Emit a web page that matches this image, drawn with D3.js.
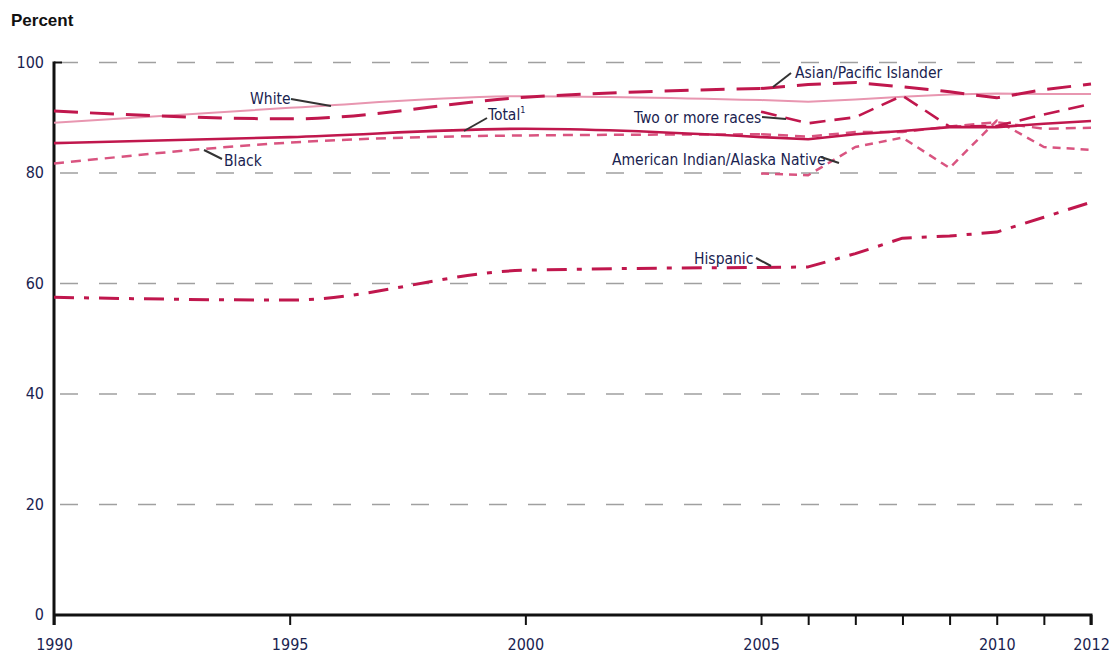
<!DOCTYPE html>
<html><head><meta charset="utf-8">
<script src="https://cdn.jsdelivr.net/npm/d3@7"></script>
<style>
body{margin:0;background:#fff;}
text{font-family:"Liberation Sans Narrow","DejaVu Sans Condensed","Roboto Condensed",sans-serif;}
</style></head>
<body><svg id="c" width="1112" height="664"></svg>
<script>
const years = [1990, 1995, 2000, 2005, 2006, 2007, 2008, 2009, 2010, 2011, 2012];
const yTicks = [0, 20, 40, 60, 80, 100];
const xTicks = [1990, 1995, 2000, 2005, 2006, 2007, 2008, 2009, 2010, 2011, 2012];
const xTickLabels = ["1990", "1995", "2000", "2005", "", "", "", "", "2010", "", "2012"];

const total    = [85.4, 86.5, 88.0, 86.5, 86.1, 87.0, 87.6, 88.3, 88.3, 88.9, 89.4];
const white    = [89.1, 91.8, 93.9, 93.2, 92.9, 93.3, 93.8, 94.2, 94.4, 94.3, 94.3];
const black    = [81.7, 85.5, 86.8, 87.0, 86.6, 87.4, 87.4, 88.4, 89.2, 88.0, 88.2];
const hispanic = [57.5, 57.0, 62.4, 62.9, 63.0, 65.4, 68.2, 68.6, 69.3, 72.0, 74.7];
const asian    = [91.2, 89.8, 93.7, 95.3, 96.0, 96.4, 95.6, 94.7, 93.6, 95.1, 96.1];
const twoMore  = [null, null, null, 91.1, 89.0, 90.1, 94.0, 88.4, 88.5, 90.6, 92.5];
const aian     = [null, null, null, 79.9, 79.6, 84.7, 86.4, 80.9, 89.5, 84.7, 84.2];

const svg = d3.select("#c");
const x = d3.scaleLinear().domain([1990, 2012]).range([54, 1091]);
const y = d3.scaleLinear().domain([0, 100]).range([615, 62.5]);

// title
svg.append("text").attr("x", 11).attr("y", 26).attr("font-size", 17).attr("font-weight", "bold")
  .attr("fill", "#111").style("font-family", "'Liberation Sans','DejaVu Sans',sans-serif").text("Percent");

// gridlines
svg.append("g").selectAll("line").data(yTicks.filter(d => d > 0)).join("line")
  .attr("x1", 60).attr("x2", 1082).attr("y1", d => y(d)).attr("y2", d => y(d))
  .attr("stroke", "#a0a0a0").attr("stroke-width", 1.6).attr("stroke-dasharray", "18,21");

// y axis labels
svg.append("g").selectAll("text").data(yTicks).join("text")
  .attr("x", 44).attr("y", d => y(d) + 5).attr("text-anchor", "end").attr("font-size", 16)
  .attr("fill", "#1a2350").text(d => d);

// axes
const xAxis = d3.axisBottom(x).tickValues(xTicks).tickSize(10).tickFormat((d, i) => xTickLabels[i]);
const gx = svg.append("g").attr("transform", `translate(0,${y(0)})`).call(xAxis);
gx.select(".domain").attr("stroke", "#111").attr("stroke-width", 3).attr("d", `M${x(1990)},0H${x(2012)}V10`);
gx.selectAll(".tick line").attr("stroke", "#111").attr("stroke-width", 2);
gx.selectAll(".tick text").attr("font-size", 16).attr("fill", "#1a2350").attr("dy", "1.35em")
  .style("font-family", "'Liberation Sans Narrow','DejaVu Sans Condensed',sans-serif");

svg.append("line").attr("x1", x(1990)).attr("x2", x(1990)).attr("y1", y(100) - 1).attr("y2", y(0) + 10)
  .attr("stroke", "#111").attr("stroke-width", 3);
svg.append("line").attr("x1", x(1990)).attr("x2", x(1990) + 8).attr("y1", y(100)).attr("y2", y(100))
  .attr("stroke", "#111").attr("stroke-width", 2);

// lines: smooth through the early, sparse years; straight segments for annual years
const smooth = d3.line().x(d => x(d[0])).y(d => y(d[1])).curve(d3.curveMonotoneX);
const straight = d3.line().x(d => x(d[0])).y(d => y(d[1])).curve(d3.curveLinear);
function pathFor(vals) {
  const pts = years.map((yr, i) => [yr, vals[i]]).filter(p => p[1] != null);
  const early = pts.filter(p => p[0] <= 2005);
  const late = pts.filter(p => p[0] >= 2005);
  let d = "";
  if (early.length > 1) d += smooth(early);
  if (late.length > 1) d += straight(late);
  return d;
}
const series = [
  {v: white,    color: "#e896b0", w: 2,   dash: null},
  {v: black,    color: "#d95480", w: 2.5, dash: "10,7"},
  {v: aian,     color: "#d95480", w: 2.5, dash: "8,6"},
  {v: total,    color: "#c0174d", w: 2.6, dash: null},
  {v: twoMore,  color: "#c0174d", w: 2.6, dash: "16,9"},
  {v: asian,    color: "#c0174d", w: 3,   dash: "24,12"},
  {v: hispanic, color: "#c0174d", w: 3,   dash: "20,10,5,10"}
];
svg.append("g").selectAll("path").data(series).join("path")
  .attr("d", s => pathFor(s.v))
  .attr("fill", "none").attr("stroke", s => s.color).attr("stroke-width", s => s.w)
  .attr("stroke-linejoin", "round")
  .attr("stroke-dasharray", s => s.dash);

// labels with leader lines
const labels = [
  {t: "White", x: 250, y: 104, lx: [291, 331], ly: [99, 106]},
  {t: "Black", x: 224, y: 166, lx: [204, 222], ly: [150, 159]},
  {t: "Total", sup: "1", x: 488, y: 120, lx: [464, 487], ly: [131, 118]},
  {t: "Asian/Pacific Islander", x: 795, y: 78, lx: [773, 791], ly: [87, 73]},
  {t: "Two or more races", x: 634, y: 123, lx: [762, 786], ly: [117, 119]},
  {t: "American Indian/Alaska Native", x: 612, y: 165, lx: [821, 839], ly: [157, 163]},
  {t: "Hispanic", x: 694, y: 264, lx: [756, 771], ly: [258, 266]}
];
const lg = svg.append("g");
labels.forEach(l => {
  const t = lg.append("text").attr("x", l.x).attr("y", l.y).attr("font-size", 15.5).attr("fill", "#1a2350").text(l.t);
  if (l.sup) t.append("tspan").attr("font-size", 9).attr("dy", -7).text(l.sup);
  lg.append("line").attr("x1", l.lx[0]).attr("x2", l.lx[1]).attr("y1", l.ly[0]).attr("y2", l.ly[1])
    .attr("stroke", "#333").attr("stroke-width", 2);
});
</script></body></html>
